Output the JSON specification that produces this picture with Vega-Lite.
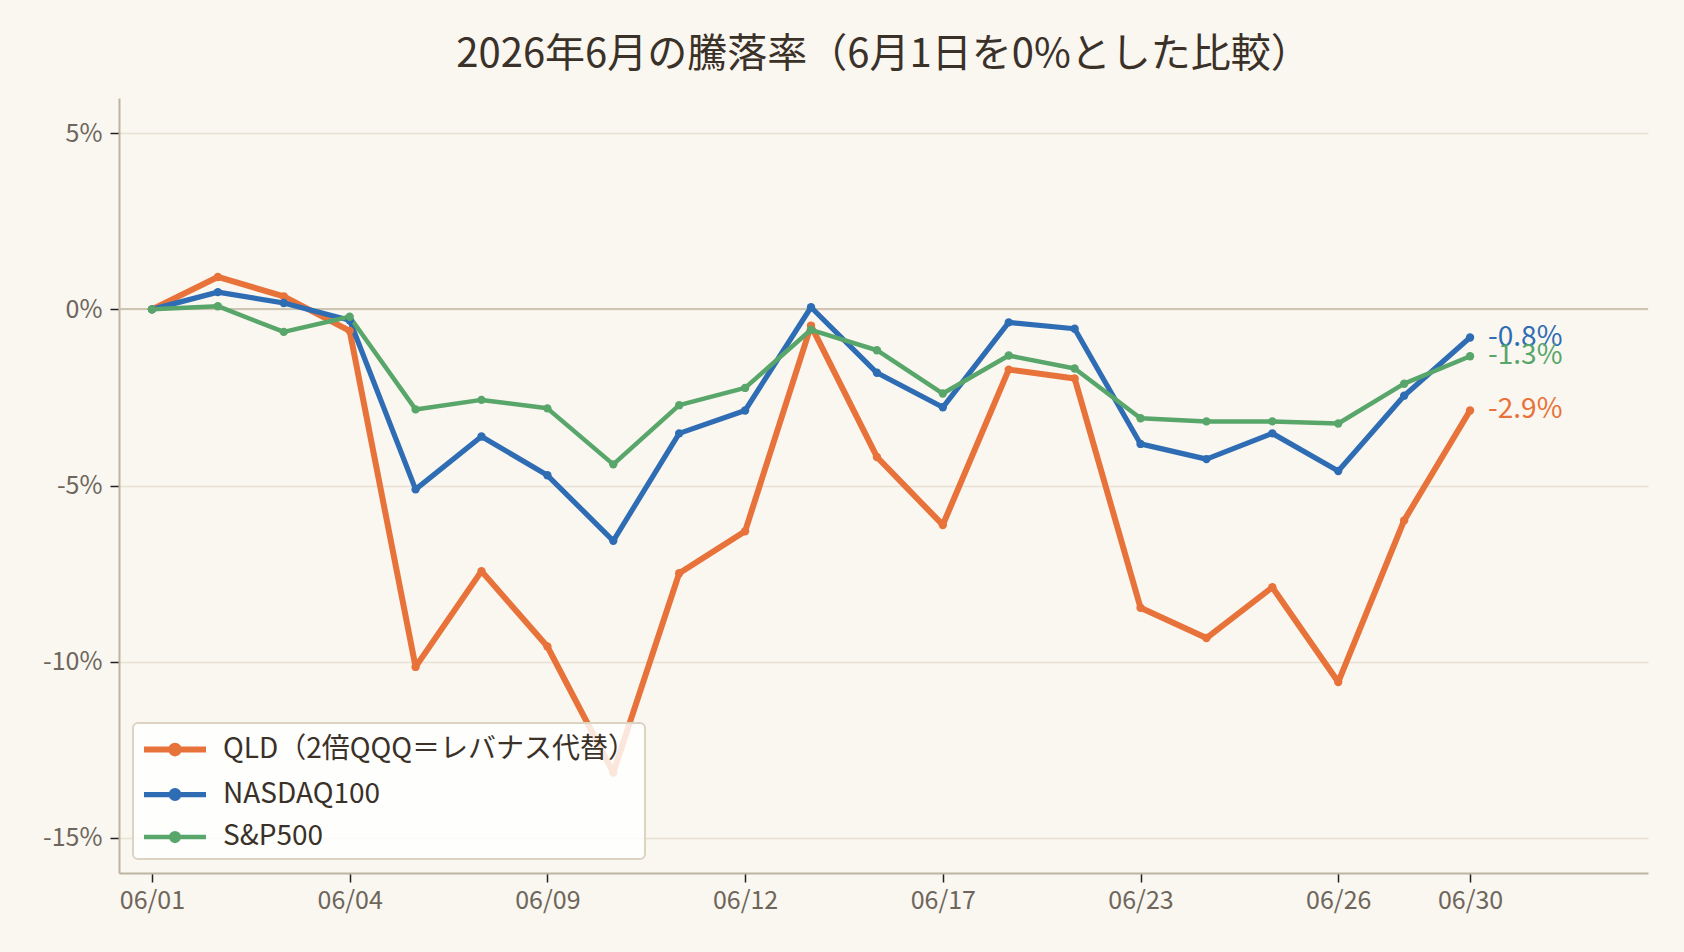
{
  "$schema": "https://vega.github.io/schema/vega-lite/v6.json",
  "width": 1529,
  "height": 775,
  "autosize": {"type": "none"},
  "padding": {"left": 119, "top": 98, "right": 36, "bottom": 79},
  "background": "#faf6f0",
  "title": {
    "text": "2026年6月の騰落率（6月1日を0%とした比較）",
    "font": "Noto Sans CJK JP",
    "fontSize": 40,
    "fontWeight": "normal",
    "color": "#3a3128",
    "anchor": "middle",
    "offset": 23
  },
  "config": {
    "view": {"stroke": null},
    "font": "Noto Sans CJK JP",
    "axis": {
      "domainColor": "#bdb3a2",
      "domainWidth": 2,
      "tickColor": "#222222",
      "tickWidth": 1.5,
      "tickSize": 9,
      "labelFontSize": 25,
      "labelColor": "#6e665b",
      "labelFont": "Noto Sans CJK JP",
      "title": null
    }
  },
  "data": {
    "values": [
      {"series": "QLD（2倍QQQ＝レバナス代替）", "i": 0, "value": 0},
      {"series": "QLD（2倍QQQ＝レバナス代替）", "i": 1, "value": 0.92},
      {"series": "QLD（2倍QQQ＝レバナス代替）", "i": 2, "value": 0.37},
      {"series": "QLD（2倍QQQ＝レバナス代替）", "i": 3, "value": -0.61},
      {"series": "QLD（2倍QQQ＝レバナス代替）", "i": 4, "value": -10.15},
      {"series": "QLD（2倍QQQ＝レバナス代替）", "i": 5, "value": -7.43},
      {"series": "QLD（2倍QQQ＝レバナス代替）", "i": 6, "value": -9.57},
      {"series": "QLD（2倍QQQ＝レバナス代替）", "i": 7, "value": -13.15},
      {"series": "QLD（2倍QQQ＝レバナス代替）", "i": 8, "value": -7.49},
      {"series": "QLD（2倍QQQ＝レバナス代替）", "i": 9, "value": -6.3},
      {"series": "QLD（2倍QQQ＝レバナス代替）", "i": 10, "value": -0.46},
      {"series": "QLD（2倍QQQ＝レバナス代替）", "i": 11, "value": -4.19},
      {"series": "QLD（2倍QQQ＝レバナス代替）", "i": 12, "value": -6.12},
      {"series": "QLD（2倍QQQ＝レバナス代替）", "i": 13, "value": -1.71},
      {"series": "QLD（2倍QQQ＝レバナス代替）", "i": 14, "value": -1.96},
      {"series": "QLD（2倍QQQ＝レバナス代替）", "i": 15, "value": -8.47},
      {"series": "QLD（2倍QQQ＝レバナス代替）", "i": 16, "value": -9.33},
      {"series": "QLD（2倍QQQ＝レバナス代替）", "i": 17, "value": -7.89},
      {"series": "QLD（2倍QQQ＝レバナス代替）", "i": 18, "value": -10.58},
      {"series": "QLD（2倍QQQ＝レバナス代替）", "i": 19, "value": -5.99},
      {"series": "QLD（2倍QQQ＝レバナス代替）", "i": 20, "value": -2.87},
      {"series": "NASDAQ100", "i": 0, "value": 0},
      {"series": "NASDAQ100", "i": 1, "value": 0.49},
      {"series": "NASDAQ100", "i": 2, "value": 0.18},
      {"series": "NASDAQ100", "i": 3, "value": -0.31},
      {"series": "NASDAQ100", "i": 4, "value": -5.11},
      {"series": "NASDAQ100", "i": 5, "value": -3.61},
      {"series": "NASDAQ100", "i": 6, "value": -4.71},
      {"series": "NASDAQ100", "i": 7, "value": -6.57},
      {"series": "NASDAQ100", "i": 8, "value": -3.52},
      {"series": "NASDAQ100", "i": 9, "value": -2.87},
      {"series": "NASDAQ100", "i": 10, "value": 0.06},
      {"series": "NASDAQ100", "i": 11, "value": -1.8},
      {"series": "NASDAQ100", "i": 12, "value": -2.78},
      {"series": "NASDAQ100", "i": 13, "value": -0.37},
      {"series": "NASDAQ100", "i": 14, "value": -0.55},
      {"series": "NASDAQ100", "i": 15, "value": -3.82},
      {"series": "NASDAQ100", "i": 16, "value": -4.25},
      {"series": "NASDAQ100", "i": 17, "value": -3.52},
      {"series": "NASDAQ100", "i": 18, "value": -4.59},
      {"series": "NASDAQ100", "i": 19, "value": -2.45},
      {"series": "NASDAQ100", "i": 20, "value": -0.8},
      {"series": "S&P500", "i": 0, "value": 0},
      {"series": "S&P500", "i": 1, "value": 0.09},
      {"series": "S&P500", "i": 2, "value": -0.64},
      {"series": "S&P500", "i": 3, "value": -0.21},
      {"series": "S&P500", "i": 4, "value": -2.84},
      {"series": "S&P500", "i": 5, "value": -2.57},
      {"series": "S&P500", "i": 6, "value": -2.81},
      {"series": "S&P500", "i": 7, "value": -4.4},
      {"series": "S&P500", "i": 8, "value": -2.72},
      {"series": "S&P500", "i": 9, "value": -2.23},
      {"series": "S&P500", "i": 10, "value": -0.58},
      {"series": "S&P500", "i": 11, "value": -1.16},
      {"series": "S&P500", "i": 12, "value": -2.39},
      {"series": "S&P500", "i": 13, "value": -1.31},
      {"series": "S&P500", "i": 14, "value": -1.68},
      {"series": "S&P500", "i": 15, "value": -3.09},
      {"series": "S&P500", "i": 16, "value": -3.18},
      {"series": "S&P500", "i": 17, "value": -3.18},
      {"series": "S&P500", "i": 18, "value": -3.24},
      {"series": "S&P500", "i": 19, "value": -2.11},
      {"series": "S&P500", "i": 20, "value": -1.33}
    ]
  },
  "layer": [
    {
      "mark": {"type": "rule", "color": "#cdc4b2", "strokeWidth": 1.5},
      "encoding": {"y": {"datum": 0, "type": "quantitative", "scale": {"domain": [-16, 6], "nice": false}}}
    },
    {
      "mark": {"type": "line", "point": {"filled": true, "size": 70}, "strokeJoin": "round", "strokeCap": "round"},
      "encoding": {
        "x": {
          "field": "i",
          "type": "quantitative",
          "scale": {"domain": [-0.5, 22.7], "nice": false, "zero": false},
          "axis": {
            "values": [0, 3, 6, 9, 12, 15, 18, 20],
            "labelExpr": "['06/01','06/02','06/03','06/04','06/05','06/08','06/09','06/10','06/11','06/12','06/15','06/16','06/17','06/18','06/22','06/23','06/24','06/25','06/26','06/29','06/30'][datum.value]",
            "grid": false,
            "labelPadding": 6
          }
        },
        "y": {
          "field": "value",
          "type": "quantitative",
          "scale": {"domain": [-16, 6], "nice": false},
          "axis": {
            "values": [-15, -10, -5, 0, 5],
            "labelExpr": "datum.value + '%'",
            "grid": true,
            "gridColor": "#e8e1d4",
            "gridWidth": 1.5,
            "labelPadding": 8
          }
        },
        "color": {
          "field": "series",
          "type": "nominal",
          "scale": {
            "domain": ["QLD（2倍QQQ＝レバナス代替）", "NASDAQ100", "S&P500"],
            "range": ["#e8733a", "#2e6db3", "#58a66a"]
          },
          "legend": {
            "title": null,
            "orient": "bottom-left",
            "offset": 14,
            "symbolType": "M-1,0H3M1.25,0A0.25,0.25,0,1,1,0.75,0A0.25,0.25,0,1,1,1.25,0Z",
            "symbolSize": 961,
            "symbolStrokeWidth": 5.5,
            "labelOffset": 45,
            "labelFontSize": 28,
            "labelColor": "#3a3128",
            "labelFont": "Noto Sans CJK JP",
            "labelLimit": 1000,
            "rowPadding": 10,
            "padding": 8,
            "fillColor": "rgba(255,255,255,0.82)",
            "strokeColor": "#dcd3c2",
            "cornerRadius": 5,
            "encode": {
              "legend": {"update": {"strokeWidth": {"value": 2}}},
              "symbols": {
                "update": {
                  "fill": {"signal": "scale('color', datum.value)"},
                  "stroke": {"signal": "scale('color', datum.value)"}
                }
              }
            }
          }
        },
        "strokeWidth": {
          "field": "series",
          "type": "nominal",
          "scale": {
            "domain": ["QLD（2倍QQQ＝レバナス代替）", "NASDAQ100", "S&P500"],
            "range": [6, 4.5, 4.5]
          },
          "legend": null
        }
      }
    },
    {
      "transform": [
        {"filter": "datum.i == 20"},
        {"calculate": "(round(datum.value * 10) / 10) + '%'", "as": "label"}
      ],
      "mark": {"type": "text", "align": "left", "baseline": "middle", "dx": 18, "fontSize": 28, "font": "Noto Sans CJK JP"},
      "encoding": {
        "x": {"field": "i", "type": "quantitative"},
        "y": {"field": "value", "type": "quantitative"},
        "text": {"field": "label"},
        "color": {"field": "series", "type": "nominal"}
      }
    }
  ]
}
